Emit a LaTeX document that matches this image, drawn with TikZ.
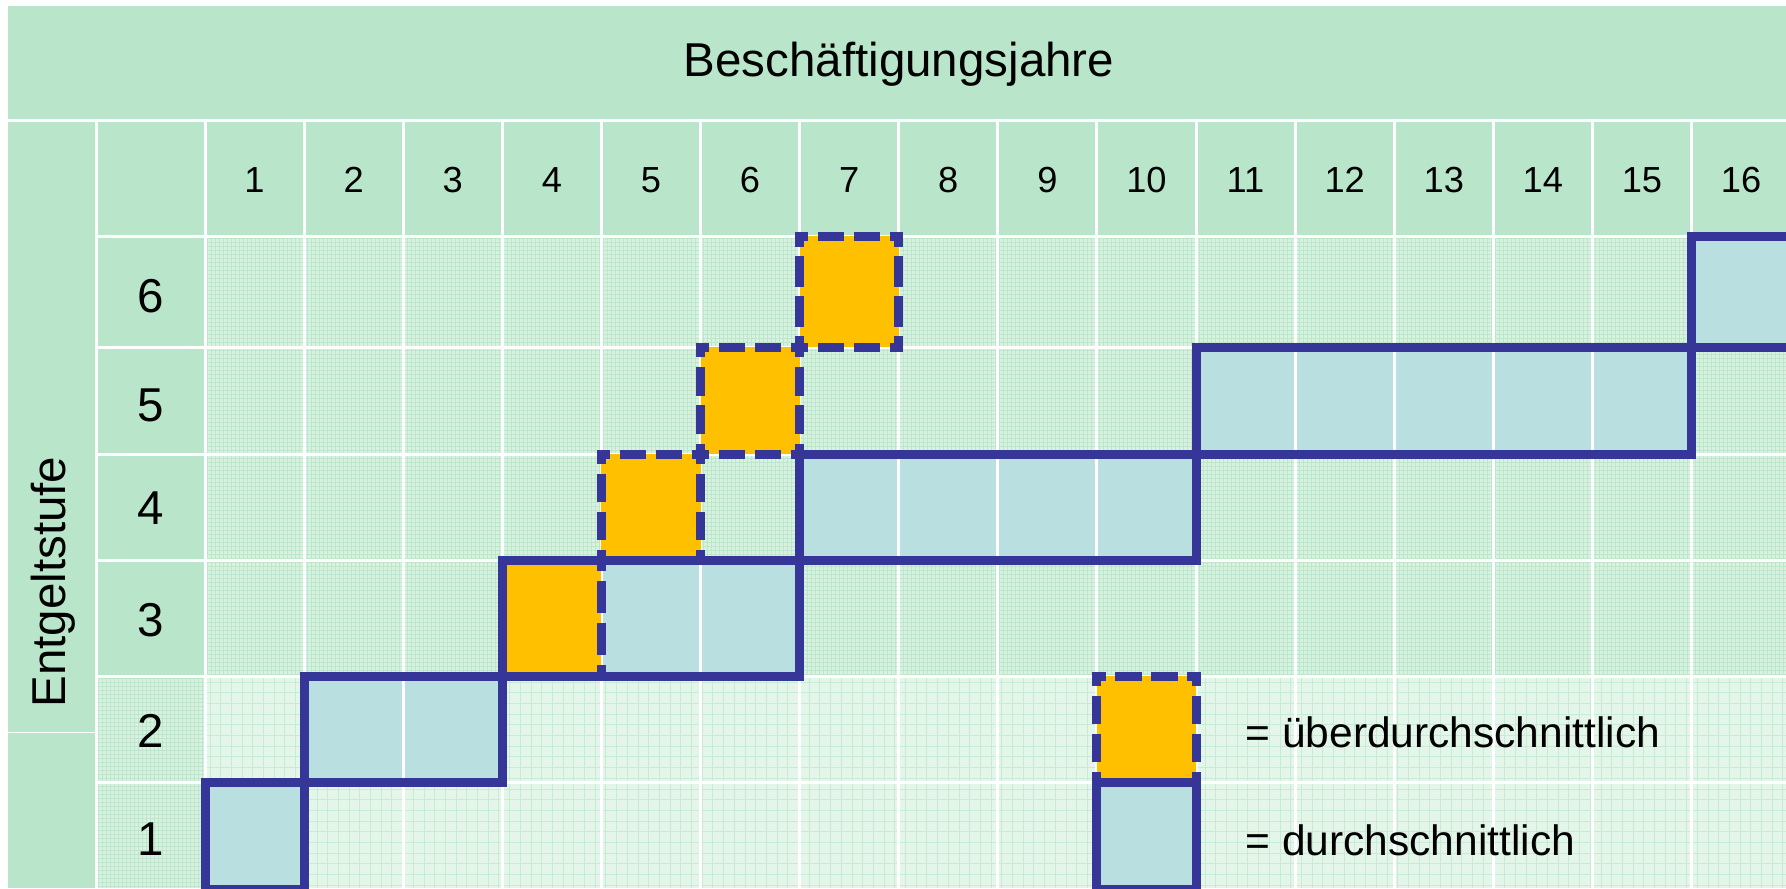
\documentclass[tikz,border=0pt]{standalone}
\usepackage{fontspec}
\setmainfont{Liberation Sans}
\definecolor{hdr}{HTML}{B9E5CA}
\definecolor{plaidbase}{HTML}{DAF1E2}
\definecolor{plaidline}{HTML}{BDE6CB}
\definecolor{lightbase}{HTML}{E4F5EA}
\definecolor{lightline}{HTML}{C9EBD4}
\definecolor{cellblue}{HTML}{B9DFE1}
\definecolor{edge}{HTML}{363698}
\definecolor{gold}{HTML}{FFC000}
\tikzset{
  sep/.style={white, line width=1.2pt},
  avgbox/.style={draw=edge, line width=3.6pt, line join=miter},
  topline/.style={draw=edge, line width=3.6pt},
  big/.style={font=\fontsize{19}{22}\selectfont, inner sep=0pt},
  num/.style={font=\fontsize{14.5}{17}\selectfont, inner sep=0pt},
  leg/.style={font=\fontsize{17}{20}\selectfont, inner sep=0pt, anchor=west},
}
% dashed side, horizontal: x1, x2, y  (pixel units)
\newcommand\hsidegold[3]{%
  \pgfmathsetmacro\gsl{0.4*(#2-#1+9)}%
  \pgfmathsetmacro\goff{3.9}%
  \pgfmathsetmacro\gon{\gsl/3-\goff}%
  \pgfmathsetmacro\gph{\gon/2}%
  \draw[topline, dash pattern=on \gon pt off \goff pt, dash phase=\gph pt] ({#1-4.5},#3) -- ({#2+4.5},#3);}
% dashed side, vertical: x, y1, y2
\newcommand\vsidegold[3]{%
  \pgfmathsetmacro\gsl{0.4*(#3-#2+9)}%
  \pgfmathsetmacro\goff{3.9}%
  \pgfmathsetmacro\gon{\gsl/3-\goff}%
  \pgfmathsetmacro\gph{\gon/2}%
  \draw[topline, dash pattern=on \gon pt off \goff pt, dash phase=\gph pt] (#1,{#2-4.5}) -- (#1,{#3+4.5});}
\newcommand\goldcell[3]{%
  \pgfmathsetmacro\gxa{205+99.1*(#1-1)}%
  \pgfmathsetmacro\gxb{205+99.1*#1}%
  \hsidegold{\gxa}{\gxb}{#2}\hsidegold{\gxa}{\gxb}{#3}%
  \vsidegold{\gxa}{#2}{#3}\vsidegold{\gxb}{#2}{#3}}
\begin{document}
\begin{tikzpicture}[x=0.4pt,y=-0.4pt]
\clip (0,0) rectangle (1786,888);
\fill[white] (0,0) rectangle (1786,888);
% solid green areas
\fill[hdr] (8,6) rectangle (1786,120);
\fill[hdr] (8,120) rectangle (96,888);
\fill[hdr] (96,120) rectangle (1786,236);
\fill[hdr] (96,236) rectangle (205,676);
% plaid texture
\fill[plaidbase] (205,236) rectangle (1786,676);
\fill[plaidbase] (96,676) rectangle (205,888);
\foreach \x in {207,211,...,1786} \draw[plaidline, line width=0.4pt] (\x,236) -- (\x,676);
\foreach \y in {238,242,...,676} \draw[plaidline, line width=0.4pt] (205,\y) -- (1786,\y);
\foreach \x in {98,102,...,205} \draw[plaidline, line width=0.4pt] (\x,676) -- (\x,888);
\foreach \y in {678,682,...,888} \draw[plaidline, line width=0.4pt] (96,\y) -- (205,\y);
% light texture
\fill[lightbase] (205,676) rectangle (1786,888);
\foreach \x in {210,220.7,...,1786} \draw[lightline, line width=0.4pt] (\x,676) -- (\x,888);
\foreach \y in {682,692.7,...,888} \draw[lightline, line width=0.4pt] (205,\y) -- (1786,\y);
% light blue cells (durchschnittlich)
\foreach \c/\t/\b in {1/782/889, 2/676/782, 3/676/782, 5/560/676, 6/560/676,
  7/454/560, 8/454/560, 9/454/560, 10/454/560,
  11/347/454, 12/347/454, 13/347/454, 14/347/454, 15/347/454,
  16/236/347, 10/782/889}
  \fill[cellblue] ({205+99.1*(\c-1)},\t) rectangle ({205+99.1*\c},\b);
% white separators
\draw[sep] (8,120) -- (1786,120);
\foreach \y in {236,347,454,560,676,782} \draw[sep] (96,\y) -- (1786,\y);
\draw[sep] (96,120) -- (96,888);
\foreach \c in {0,...,15} \draw[sep] ({205+99.1*\c},120) -- ({205+99.1*\c},888);
\draw[white, line width=0.4pt] (8,732) -- (96,732);
% orange cells (ueberdurchschnittlich)
\foreach \c/\t/\b in {4/560/676, 5/454/560, 6/347/454, 7/236/347, 10/676/782}
  \fill[gold] ({205+99.1*(\c-1)},\t) rectangle ({205+99.1*\c},\b);
\foreach \c/\t/\b in {4/560/676, 5/454/560, 6/347/454, 7/236/347, 10/676/782}
  \goldcell{\c}{\t}{\b};
% solid boxes
\draw[avgbox] ({205+99.1*0},782) rectangle ({205+99.1*1},889);
\draw[avgbox] ({205+99.1*1},676) rectangle ({205+99.1*3},782);
\draw[avgbox] ({205+99.1*3},560) rectangle ({205+99.1*6},676);
\draw[avgbox] ({205+99.1*6},454) rectangle ({205+99.1*10},560);
\draw[avgbox] ({205+99.1*10},347) rectangle ({205+99.1*15},454);
\draw[avgbox] ({205+99.1*15},236) rectangle (1830,347);
\draw[avgbox] ({205+99.1*9},782) rectangle ({205+99.1*10},889);
% texts
\node[big] (title) at (899,64) {Beschäftigungsjahre};
\node[big, rotate=90] (stufe) at (53,582) {Entgeltstufe};
\foreach \c in {1,...,16}
  \node[num] (j\c) at ({205+99.1*(\c-0.5)},180) {\c};
\foreach \r/\y in {6/296, 5/405, 4/508, 3/620, 2/731, 1/839}
  \node[big] (s\r) at (150.5,\y) {\r};
\node[leg] (lueber) at (1245,732) {= überdurchschnittlich};
\node[leg] (ldurch) at (1245,840) {= durchschnittlich};
\end{tikzpicture}
\end{document}
